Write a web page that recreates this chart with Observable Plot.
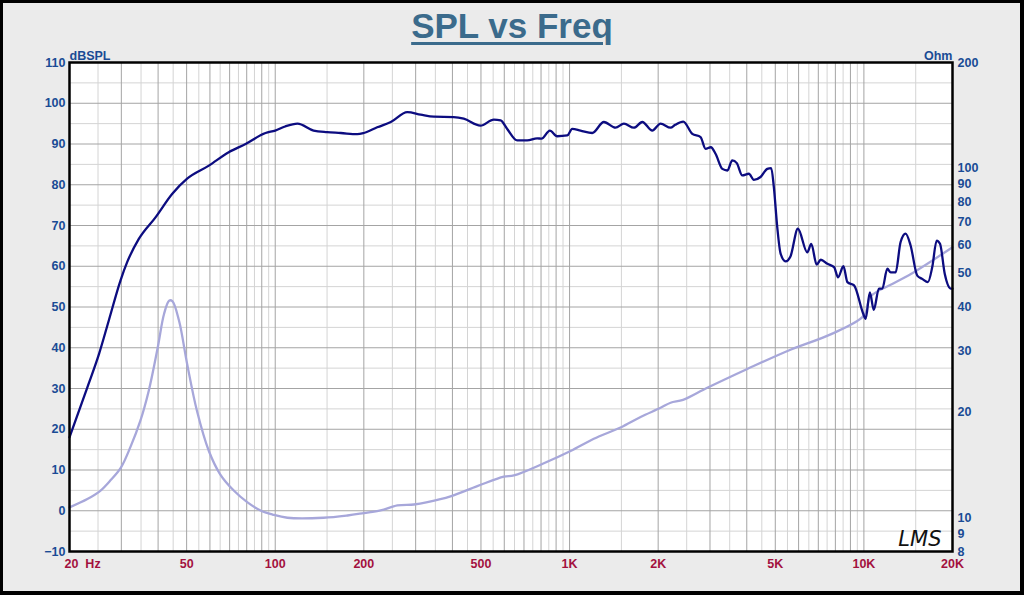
<!DOCTYPE html>
<html>
<head>
<meta charset="utf-8">
<script src="https://cdn.jsdelivr.net/npm/d3@7"></script>
<script src="https://cdn.jsdelivr.net/npm/@observablehq/plot@0.6"></script>
<style>
  html, body { margin: 0; padding: 0; background: #ebebeb; }
  #wrap { position: relative; width: 1024px; height: 595px; background: #ebebeb; overflow: hidden; }
  #wrap svg { position: absolute; left: 0; top: 0; }
  #title { position: absolute; left: 0; width: 1024px; top: 6px; text-align: center;
           font-family: "Liberation Sans", Arial, sans-serif; font-weight: bold; font-size: 35px;
           line-height: 40px; color: #3b6b8c; text-decoration: underline; text-decoration-thickness: 3px;
           text-underline-offset: 4px; }
  #border { position: absolute; left: 0; top: 0; width: 1024px; height: 595px; box-sizing: border-box;
            border-style: solid; border-color: #000; border-width: 3px 4px 4px 3px; pointer-events: none; }
</style>
</head>
<body>
<div id="wrap">
  <div id="title">SPL vs Freq</div>
  <div id="border"></div>
</div>
<script>
// ---- Data ----
const splFreq = [20, 23, 25.2, 27.2, 29.8, 31.4, 34.4, 39.2, 44.7, 50.2, 59.5, 69.5, 79.3, 92.7, 100, 108, 119, 135, 150, 167, 190, 200, 222, 247, 281, 312, 346, 404, 437, 498, 553, 583, 614, 664, 718, 776, 803, 857, 908, 982, 1021, 1089, 1194, 1308, 1433, 1530, 1654, 1767, 1910, 2038, 2204, 2284, 2434, 2612, 2787, 2898, 3021, 3133, 3304, 3438, 3571, 3700, 3863, 4066, 4228, 4454, 4696, 4843, 4944, 5077, 5212, 5420, 5630, 5966, 6421, 6625, 6910, 7138, 7519, 7921, 8170, 8520, 8790, 9260, 9954, 10140, 10475, 10806, 11245, 11550, 12010, 12330, 12820, 13320, 13860, 14410, 15180, 15780, 16500, 17070, 17670, 18140, 18830, 19760, 20000];
const splDb = [18.0, 30.3, 38.5, 46.7, 56.5, 61.0, 66.7, 72.0, 77.8, 81.5, 84.7, 88.0, 90.0, 92.7, 93.3, 94.3, 95.0, 93.3, 92.9, 92.7, 92.4, 92.7, 94.1, 95.4, 97.8, 97.2, 96.7, 96.6, 96.2, 94.5, 96.0, 95.8, 93.7, 90.9, 90.9, 91.4, 91.3, 93.3, 91.9, 92.1, 93.7, 93.3, 92.7, 95.4, 94.0, 95.0, 94.0, 95.4, 93.3, 95.0, 94.0, 94.7, 95.5, 92.5, 91.7, 88.8, 89.2, 87.6, 83.9, 83.5, 86.0, 85.3, 82.3, 82.7, 81.2, 81.9, 83.9, 84.1, 79.4, 69.6, 63.1, 61.2, 62.4, 69.2, 63.4, 65.5, 60.4, 61.6, 60.6, 59.8, 57.3, 60.0, 56.1, 55.3, 48.3, 47.1, 53.6, 49.3, 54.5, 54.5, 59.4, 58.5, 58.5, 65.9, 68.0, 65.1, 57.7, 56.9, 56.1, 59.8, 66.3, 65.5, 58.1, 54.5, 54.5];

const zFreq = [20, 23, 25.5, 27.6, 29.9, 32.2, 34.8, 37.2, 39.9, 41.9, 43.6, 44.7, 47.1, 50.2, 54.2, 59.5, 65, 72.3, 80.3, 89.1, 98, 110, 146, 176, 200, 228, 260, 296, 329, 394, 486, 598, 647, 818, 1008, 1209, 1490, 1743, 2038, 2204, 2430, 2937, 4016, 5630, 7704, 10000, 10550, 12580, 14790, 20000];
const zOhm = [10.7, 11.3, 11.95, 12.8, 13.9, 15.9, 18.9, 23.1, 30.7, 38.2, 41.7, 41.6, 36.6, 27.5, 20.2, 15.5, 13.3, 11.95, 11.07, 10.48, 10.2, 9.99, 9.99, 10.14, 10.3, 10.48, 10.83, 10.9, 11.07, 11.5, 12.3, 13.1, 13.2, 14.3, 15.5, 16.8, 18.1, 19.4, 20.6, 21.3, 21.7, 23.5, 26.6, 30.2, 33.4, 37.8, 42.9, 46.7, 50.3, 59.3];

const xTicks = [20, 50, 100, 200, 500, 1000, 2000, 5000, 10000, 20000];
const xTickLabels = ["20\u00a0\u00a0Hz", "50", "100", "200", "500", "1K", "2K", "5K", "10K", "20K"];
const dbTicks = [-10, 0, 10, 20, 30, 40, 50, 60, 70, 80, 90, 100, 110];
const ohmTicks = [8, 9, 10, 20, 30, 40, 50, 60, 70, 80, 90, 100, 200];

// ---- Derived tables ----
const ohm2db = d3.scaleLog().domain([8, 200]).range([-10, 110]);
const spl = splFreq.map((f, i) => ({f, v: splDb[i]}));
const imp = zFreq.map((f, i) => ({f, v: ohm2db(zOhm[i])}));
const xLab = xTicks.map((t, i) => ({t, label: xTickLabels[i]}));

// grid lines: k*10^n (major) and (k+0.5)*10^n (minor) within 20..20000
const gridMajor = [], gridMinor = [];
for (const dec of [10, 100, 1000, 10000]) {
  for (let k = 1; k <= 9; k++) {
    const a = k * dec, b = (k + 0.5) * dec;
    if (a >= 20 && a <= 20000) gridMajor.push(a);
    if (b >= 20 && b <= 20000) gridMinor.push(b);
  }
}
const hMajor = d3.range(-10, 111, 10);
const hMinor = d3.range(-5, 110, 10);

const blue = "#1a4b95";
const crimson = "#a3113e";

const chart = Plot.plot({
  width: 1024,
  height: 595,
  marginLeft: 69,
  marginRight: 72,
  marginTop: 62,
  marginBottom: 44,
  style: {fontFamily: "'Liberation Sans', Arial, sans-serif", fontSize: "12px", background: "transparent", overflow: "visible"},
  x: {type: "log", domain: [20, 20000], axis: null},
  y: {domain: [-10, 110]},
  marks: [
    Plot.frame({fill: "white", stroke: null}),
    Plot.ruleX(gridMinor, {stroke: "#d4d4d4", strokeWidth: 1}),
    Plot.ruleY(hMinor, {stroke: "#d4d4d4", strokeWidth: 1}),
    Plot.ruleX(gridMajor, {stroke: "#a4a4a4", strokeWidth: 1}),
    Plot.ruleY(hMajor, {stroke: "#a4a4a4", strokeWidth: 1}),
    Plot.line(imp, {x: "f", y: "v", stroke: "#a7a7da", strokeWidth: 2.3, curve: "catmull-rom"}),
    Plot.line(spl, {x: "f", y: "v", stroke: "#0c0c80", strokeWidth: 2.3, curve: "monotone-x"}),
    Plot.frame({stroke: "#000", strokeWidth: 2.5}),
    Plot.axisY(dbTicks, {anchor: "left", tickSize: 0, tickPadding: 4, color: blue, fontWeight: "bold", fontSize: 12.5, label: null}),
    Plot.axisY(ohmTicks.map(o => ohm2db(o)), {anchor: "right", tickSize: 0, tickPadding: 5, color: blue, fontWeight: "bold", fontSize: 12.5, label: null,
      tickFormat: d => String(Math.round(ohm2db.invert(d)))}),
    Plot.text(xLab.slice(1), {x: "t", text: "label", frameAnchor: "bottom", lineAnchor: "top", dy: 8,
      fill: crimson, fontWeight: "bold", fontSize: 12.5}),
    Plot.text(xLab.slice(0, 1), {x: "t", text: "label", frameAnchor: "bottom", lineAnchor: "top", dy: 8, dx: -5, textAnchor: "start",
      fill: crimson, fontWeight: "bold", fontSize: 12.5}),
    Plot.text(["dBSPL"], {frameAnchor: "top-left", text: d => d, textAnchor: "start", lineAnchor: "bottom", dy: -3, fill: blue, fontWeight: "bold", fontSize: 12.5}),
    Plot.text(["Ohm"], {frameAnchor: "top-right", text: d => d, textAnchor: "end", lineAnchor: "bottom", dy: -3, fill: blue, fontWeight: "bold", fontSize: 12.5}),
    Plot.text(["LMS"], {frameAnchor: "bottom-right", text: d => d, textAnchor: "end", lineAnchor: "bottom", dx: -11, dy: -6,
      fill: "#111", fontSize: 21, fontStyle: "italic", fontFamily: "'DejaVu Sans', sans-serif"})
  ]
});
document.getElementById("wrap").insertBefore(chart, document.getElementById("title"));
</script>
</body>
</html>
